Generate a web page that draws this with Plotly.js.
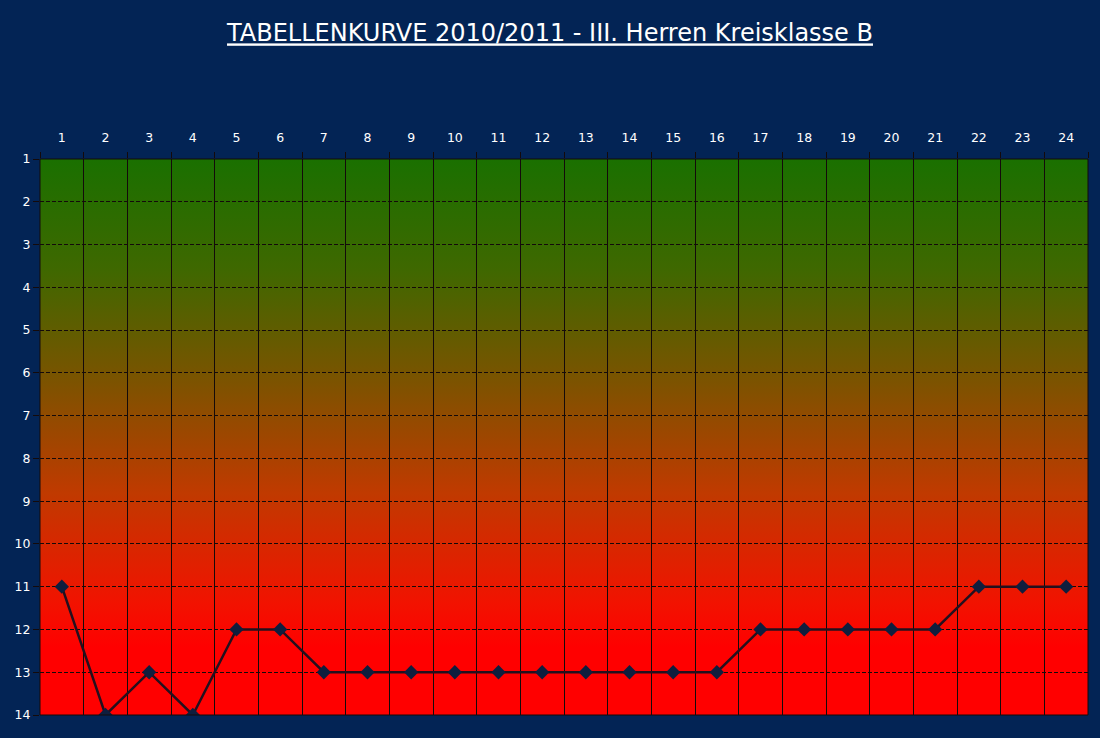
<!DOCTYPE html>
<html>
<head>
<meta charset="utf-8">
<script src="https://cdn.plot.ly/plotly-3.0.1.min.js"></script>
<style>
html,body{margin:0;padding:0;background:#032455;}
#chart{width:1100px;height:738px;}
</style>
</head>
<body>
<div id="chart"></div>
<script>
const rounds = [1,2,3,4,5,6,7,8,9,10,11,12,13,14,15,16,17,18,19,20,21,22,23,24];
const positions = [11,14,13,14,12,12,13,13,13,13,13,13,13,13,13,13,12,12,12,12,12,11,11,11];
const roundLabels = rounds.map(String);
const placeTicks = [1,2,3,4,5,6,7,8,9,10,11,12,13,14];
const titleText = 'TABELLENKURVE 2010/2011 - III. Herren Kreisklasse B';

const svg = '<svg xmlns="http://www.w3.org/2000/svg" width="100" height="100" preserveAspectRatio="none" viewBox="0 0 100 100">' +
  '<defs><linearGradient id="g" x1="0" y1="0" x2="0" y2="1">' +
  '<stop offset="0" stop-color="#1a7000"/>' +
  '<stop offset="0.2" stop-color="#3f6800"/>' +
  '<stop offset="0.4" stop-color="#7c5300"/>' +
  '<stop offset="0.6" stop-color="#c03a00"/>' +
  '<stop offset="0.8" stop-color="#f21200"/>' +
  '<stop offset="0.88" stop-color="#ff0000"/>' +
  '<stop offset="1" stop-color="#ff0000"/>' +
  '</linearGradient></defs><rect x="0" y="0" width="100" height="100" fill="url(#g)"/></svg>';
const bgSrc = 'data:image/svg+xml;base64,' + btoa(svg);

const trace = {
  x: rounds, y: positions, type: 'scatter', mode: 'lines+markers',
  line: {color: '#24101e', width: 2.5},
  marker: {symbol: 'diamond', size: 11, color: '#0f1e3e', line: {color: '#0f1e3e', width: 0}},
  hoverinfo: 'x+y', showlegend: false
};

const font = {family: 'Tahoma, "DejaVu Sans", sans-serif', color: '#ffffff', size: 12.5};

const layout = {
  width: 1100, height: 738,
  paper_bgcolor: '#032455', plot_bgcolor: 'rgba(0,0,0,0)',
  margin: {l: 40, r: 12, t: 159, b: 23},
  title: {text: '<u>' + titleText + '</u>', font: {family: 'Tahoma, "DejaVu Sans", sans-serif', size: 24, color: '#ffffff'},
          x: 0.5, xanchor: 'center', y: 1 - 33/738, yanchor: 'middle', yref: 'container'},
  xaxis: {range: [0.5, 24.5], side: 'top', tickmode: 'array', tickvals: rounds, ticktext: roundLabels,
          showgrid: false, zeroline: false, ticks: 'outside', ticklen: 11, tickcolor: 'rgba(0,0,0,0)',
          tickfont: font, showline: false, fixedrange: true},
  xaxis2: {range: [0.5, 24.5], overlaying: 'x', side: 'top', tickmode: 'linear', tick0: 0.5, dtick: 1,
           showticklabels: false, showgrid: true, gridcolor: '#140a0a', gridwidth: 1, ticks: 'outside', ticklen: 6,
           tickcolor: '#140a0a', zeroline: false, showline: false},
  yaxis: {range: [14, 1], tickmode: 'array', tickvals: placeTicks, ticktext: placeTicks.map(String),
          showgrid: true, gridcolor: '#140a0a', gridwidth: 1, griddash: '4px,2px', zeroline: false,
          ticks: 'outside', ticklen: 6, tickcolor: '#140a0a', tickfont: font, showline: false, fixedrange: true},
  images: [{source: bgSrc, xref: 'paper', yref: 'paper', x: 0, y: 1, sizex: 1, sizey: 1,
            sizing: 'stretch', layer: 'below', xanchor: 'left', yanchor: 'top'}],
  shapes: [{type: 'rect', xref: 'paper', yref: 'paper', x0: 0, x1: 1, y0: 0, y1: 1,
            line: {color: '#140a0a', width: 1}, fillcolor: 'rgba(0,0,0,0)', layer: 'above'}]
};

Plotly.newPlot('chart', [trace, {x: [0.5], y: [1], xaxis: 'x2', yaxis: 'y', mode: 'markers', marker: {opacity: 0}, showlegend: false, hoverinfo: 'skip'}], layout, {displayModeBar: false, staticPlot: true});
</script>
</body>
</html>
